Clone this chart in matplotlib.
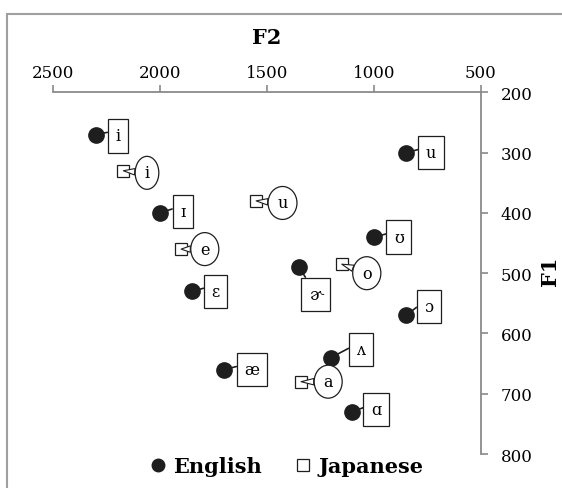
import matplotlib
matplotlib.use("Agg")
import matplotlib.pyplot as plt
from matplotlib.lines import Line2D
from matplotlib.patches import Rectangle
from matplotlib.path import Path
from matplotlib.transforms import Affine2D

plt.rcParams['font.family'] = 'DejaVu Serif'

# vogais do ingles (F2, F1 em Hz)
en_vogais = ['i', 'ɪ', 'ɛ', 'æ', 'ʌ', 'ɑ', 'ɔ', 'ʊ', 'u', 'ɚ']
en_f2 = [2300, 2000, 1850, 1700, 1200, 1100, 850, 1000, 850, 1350]
en_f1 = [270, 400, 530, 660, 640, 730, 570, 440, 300, 490]

# vogais do japones
jp_vogais = ['i', 'u', 'e', 'o', 'a']
jp_f2 = [2170, 1550, 1900, 1150, 1340]
jp_f1 = [330, 380, 460, 485, 680]

f2_ticks = [2500, 2000, 1500, 1000, 500]
f1_ticks = [200, 300, 400, 500, 600, 700, 800]

# deslocamento dos rotulos (pontos)
en_off = [(16, -1), (16.5, 1), (17, 0), (20, 0), (21.5, 6), (17, 1.5),
          (16.5, 6.5), (18, 0), (18, 0), (12, -19.5)]
en_rel = [(0, 0.8)] * 9 + [(0.15, 1)]
jp_off = [(17, -1.5), (19, -1.5), (17, 0), (18, -6.5), (19.5, 0)]

cinza = '#8a8a8a'
preto = '#1e1e1e'


# caixa retangular com folga diferente na horizontal e na vertical
def caixa(x0, y0, width, height, mutation_size):
    px, py = 0.47 * mutation_size, 0.51 * mutation_size
    x0, y0 = x0 - px, y0 - py
    x1, y1 = x0 + width + 2 * px, y0 + height + 2 * py
    return Path([(x0, y0), (x1, y0), (x1, y1), (x0, y1), (x0, y0)], closed=True)


# balao oval
def elipse(x0, y0, width, height, mutation_size):
    rx = width / 2 + 0.58 * mutation_size
    ry = height / 2 + 0.5 * mutation_size
    t = Affine2D().scale(rx, ry).translate(x0 + width / 2, y0 + height / 2)
    return t.transform_path(Path.unit_circle())


fig = plt.figure(figsize=(5.62, 4.89), dpi=100)
ax = fig.add_axes([0.0938, 0.0695, 0.762, 0.7395])

ax.plot(en_f2, en_f1, 'o', color=preto, ms=11, zorder=3)
ax.plot(jp_f2, jp_f1, 's', mfc='white', mec=preto, mew=0.9, ms=8.5, zorder=3)

for v, x, y, off, rp in zip(en_vogais, en_f2, en_f1, en_off, en_rel):
    ax.annotate(v, (x, y), xytext=off, textcoords='offset points',
                ha='center', va='center', fontsize=11.5, zorder=4,
                bbox=dict(boxstyle=caixa, fc='white', ec=preto, lw=0.9),
                arrowprops=dict(arrowstyle='-', color=preto, lw=1.2,
                                shrinkA=0, shrinkB=0, relpos=rp))

for v, x, y, off in zip(jp_vogais, jp_f2, jp_f1, jp_off):
    ax.annotate(v, (x, y), xytext=off, textcoords='offset points',
                ha='center', va='center', fontsize=11.5, zorder=4,
                bbox=dict(boxstyle=elipse, fc='white', ec=preto, lw=0.9),
                arrowprops=dict(arrowstyle='wedge,tail_width=0.4', fc='white',
                                ec=preto, lw=0.8, shrinkA=0, shrinkB=0))

ax.set_xlim(2500, 500)
ax.set_ylim(800, 200)
ax.set_xticks(f2_ticks)
ax.set_yticks(f1_ticks)
ax.xaxis.tick_top()
ax.yaxis.tick_right()
for s in ['left', 'bottom']:
    ax.spines[s].set_visible(False)
for s in ['top', 'right']:
    ax.spines[s].set_color(cinza)
    ax.spines[s].set_linewidth(1.3)
ax.tick_params(colors=cinza, labelcolor='black', length=5, width=1.2, labelsize=12)
ax.tick_params(axis='x', pad=3)
ax.tick_params(axis='y', pad=9)

fig.text(0.475, 1 - 38 / 489, 'F2', ha='center', va='center', fontsize=15, fontweight='bold')
fig.text(0.978, 0.445, 'F1', ha='center', va='center', rotation=90, fontsize=15, fontweight='bold')

# legenda
handles = [Line2D([], [], marker='o', ls='', color=preto, ms=9),
           Line2D([], [], marker='s', ls='', mfc='white', mec=preto, mew=0.9, ms=8)]
fig.legend(handles, ['English', 'Japanese'], loc='center', bbox_to_anchor=(0.51, 0.045),
           ncol=2, frameon=False, handlelength=0.8, handletextpad=0.3, columnspacing=1.6,
           prop=dict(family='DejaVu Serif', weight='bold', size=15))

# moldura cinza
fig.patches.append(Rectangle((7 / 562, -0.2), 1.2, 1.2 - 15 / 489, transform=fig.transFigure,
                             fill=False, ec='#a0a0a0', lw=1.5))

fig.savefig('out.png', dpi=100)
